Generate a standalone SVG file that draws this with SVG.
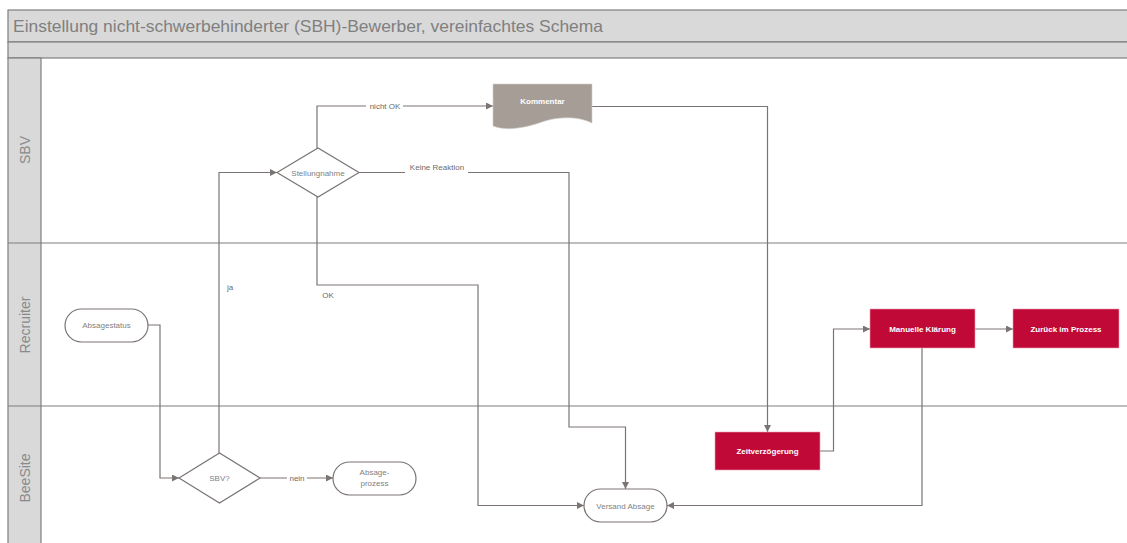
<svg xmlns="http://www.w3.org/2000/svg" width="1127" height="543" viewBox="0 0 1127 543">
<defs>
<marker id="arr" viewBox="0 0 10 10" refX="10" refY="5" markerWidth="7" markerHeight="7" markerUnits="userSpaceOnUse" orient="auto">
<path d="M0,0 L10,5 L0,10 z" fill="#7a7573"/>
</marker>
<style>
.frame{fill:none;stroke:#7f7f7f;stroke-width:1.2}
.band{fill:#d9d9d9;stroke:#7f7f7f;stroke-width:1.2}
.lane{font-family:"Liberation Sans",Arial,sans-serif;font-size:14px;fill:#8a8a8a;text-anchor:middle}
.title{font-family:"Liberation Sans",Arial,sans-serif;font-size:16.5px;fill:#808080}
.con{fill:none;stroke:#7a7573;stroke-width:1.2}
.shape{fill:#fff;stroke:#7a7573;stroke-width:1.2}
.red{fill:#c00937;stroke:#e8a0b0;stroke-width:0.6}
.t{font-family:"Liberation Sans",Arial,sans-serif;font-size:8px;fill:#7f7f7f;text-anchor:middle}
.tw{font-family:"Liberation Sans",Arial,sans-serif;font-size:8px;fill:#fff;font-weight:bold;text-anchor:middle}
.lbl{font-family:"Liberation Sans",Arial,sans-serif;font-size:8px;fill:#6b6b6b;text-anchor:middle}
</style>
</defs>
<rect x="0" y="0" width="1127" height="543" fill="#fff"/>
<g id="pool">
<rect class="band" x="8" y="10" width="1125" height="32"/>
<rect class="band" x="8" y="42" width="1125" height="16"/>
<text class="title" x="13" y="32" textLength="590" lengthAdjust="spacingAndGlyphs">Einstellung nicht-schwerbehinderter (SBH)-Bewerber, vereinfachtes Schema</text>
<rect class="band" x="8" y="58" width="33" height="490"/>
<line class="frame" x1="8" y1="243" x2="1127" y2="243"/>
<line class="frame" x1="8" y1="406" x2="1127" y2="406"/>
<text class="lane" transform="translate(30,150) rotate(-90)">SBV</text>
<text class="lane" transform="translate(30,325) rotate(-90)">Recruiter</text>
<text class="lane" transform="translate(30,478) rotate(-90)">BeeSite</text>
</g>
<g id="connectors">
<path class="con" d="M148,325 H160 V478 H179" marker-end="url(#arr)"/>
<path class="con" d="M219,453 V172.5 H277" marker-end="url(#arr)"/>
<path class="con" d="M260,478 H333" marker-end="url(#arr)"/>
<path class="con" d="M317,148 V106 H493" marker-end="url(#arr)"/>
<path class="con" d="M359,172.5 H569 V427 H625.5 V489" marker-end="url(#arr)"/>
<path class="con" d="M317,197 V285 H478 V505.5 H584" marker-end="url(#arr)"/>
<path class="con" d="M592,106.5 H767.5 V432" marker-end="url(#arr)"/>
<path class="con" d="M820,451 H833.5 V329 H870" marker-end="url(#arr)"/>
<path class="con" d="M975,329 H1013" marker-end="url(#arr)"/>
<path class="con" d="M922,348 V505.5 H667" marker-end="url(#arr)"/>
<rect x="287" y="472" width="20" height="10" fill="#fff"/>
<text class="lbl" x="297" y="481">nein</text>
<rect x="366" y="101" width="37" height="10" fill="#fff"/>
<text class="lbl" x="385" y="109">nicht OK</text>
<rect x="405" y="163" width="63" height="12" fill="#fff"/>
<text class="lbl" x="437" y="170">Keine Reaktion</text>
<text class="lbl" x="230" y="290">ja</text>
<text class="lbl" x="328" y="298">OK</text>
</g>
<g id="absagestatus">
<rect class="shape" x="65" y="309" width="83" height="33" rx="16.5"/>
<text class="t" x="106.5" y="328">Absagestatus</text>
</g>
<g id="sbv">
<path class="shape" d="M179,478 L219.5,453 L260,478 L219.5,503 z"/>
<text class="t" x="219.5" y="481">SBV?</text>
</g>
<g id="absageprozess">
<rect class="shape" x="333" y="462" width="83" height="33" rx="16.5"/>
<text class="t" x="374.5" y="475">Absage-</text>
<text class="t" x="374.5" y="486">prozess</text>
</g>
<g id="stellungnahme">
<path class="shape" d="M277,172.5 L318,148 L359,172.5 L318,197 z"/>
<text class="t" x="318" y="175.5">Stellungnahme</text>
</g>
<g id="kommentar">
<path d="M493,84 H592 V123 C580,117 562,116 545,121 C528,127 508,132 493,126 z" fill="#a69e96" stroke="#d0ccc8" stroke-width="0.6"/>
<text class="tw" x="542.5" y="104">Kommentar</text>
</g>
<g id="zeitverzoegerung">
<rect class="red" x="715" y="432" width="105" height="38"/>
<text class="tw" x="767.5" y="454">Zeitverzögerung</text>
</g>
<g id="manuelle">
<rect class="red" x="870" y="309" width="105" height="39"/>
<text class="tw" x="922.5" y="332">Manuelle Klärung</text>
</g>
<g id="zurueck">
<rect class="red" x="1013" y="309" width="106" height="39"/>
<text class="tw" x="1066" y="332">Zurück im Prozess</text>
</g>
<g id="versand">
<rect class="shape" x="584" y="489" width="83" height="33" rx="16.5"/>
<text class="t" x="625.5" y="508.5">Versand Absage</text>
</g>
</svg>
